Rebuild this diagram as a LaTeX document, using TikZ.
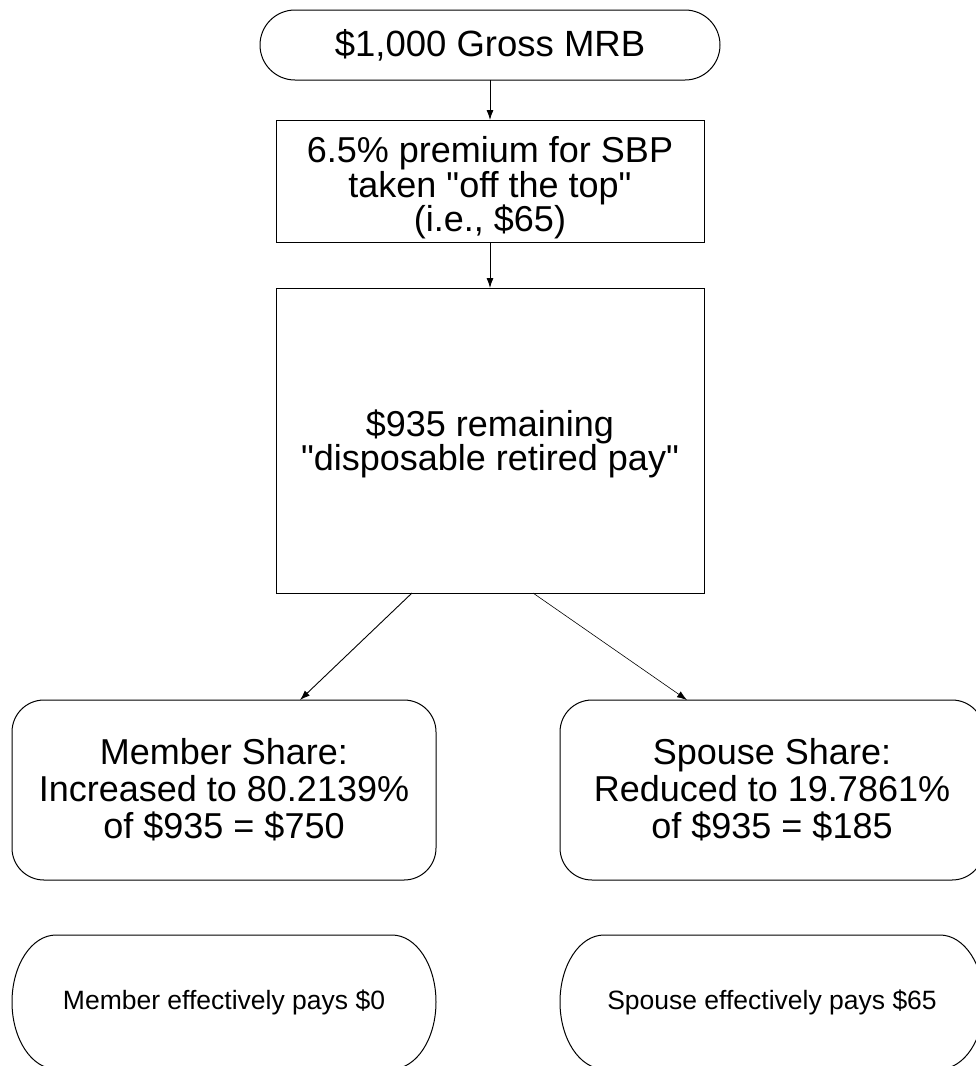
\documentclass[tikz,border=0pt]{standalone}
\usepackage{fontspec}
\setmainfont{Liberation Sans}[Ligatures=TeXOff]
\usetikzlibrary{arrows.meta,calc}
\begin{document}
\begin{tikzpicture}[x=1pt,y=-1pt,
  every node/.style={inner sep=0pt,outer sep=0pt,align=center},
  bigtext/.style={font=\fontsize{36}{37}\selectfont},
  tighttext/.style={font=\fontsize{36}{34.5}\selectfont},
  smalltext/.style={font=\fontsize{26.5}{30}\selectfont},
  boxline/.style={draw=black,line width=1pt},
  terminal/.style={boxline,rectangle,rounded corners=35pt},
  processbox/.style={boxline,rectangle},
  sharebox/.style={boxline,rectangle,rounded corners=32pt,minimum width=424pt,minimum height=180pt},
  noteterm/.style={rectangle,minimum width=424pt,minimum height=134pt},
  arr/.style={draw=black,line width=0.9pt,-{Latex[length=10pt,width=7pt]}},
  thinarr/.style={draw=black,line width=0.6pt,-{Latex[length=10pt,width=7pt]}}
]
\useasboundingbox (0,0) rectangle (976,1066);
\fill[white] (0,0) rectangle (976,1066);
\clip (0,0) rectangle (976,1066);

\node[terminal,font=\fontsize{36.5}{38}\selectfont,minimum width=460pt,minimum height=70pt] (gross) at (490,45) {\$1,000 Gross MRB};
\node[processbox,minimum width=428pt,minimum height=122pt] (prem) at (490,181) {};
\node[tighttext] (premtext) at (490,188)
  {6.5\% premium for SBP\\taken "off the top"\\(i.e., \$65)};
\node[processbox,minimum width=428pt,minimum height=305pt] (disp) at (490,440.5) {};
\node[tighttext] (disptext) at (490,444)
  {\$935 remaining\\"disposable retired pay"};
\node[sharebox,bigtext] (member) at (224,790)
  {Member Share:\\Increased to 80.2139\%\\of \$935 = \$750};
\node[sharebox,bigtext] (spouse) at (772,790)
  {Spouse Share:\\Reduced to 19.7861\%\\of \$935 = \$185};
\node[noteterm,smalltext] (mpays) at (224,1002) {Member effectively pays \$0};
\node[noteterm,smalltext] (spays) at (772,1002) {Spouse effectively pays \$65};

% terminal outlines with elliptical ends
\foreach \n in {mpays,spays}{
  \draw[boxline] ($(\n.north west)+(44,0)$) -- ($(\n.north east)+(-44,0)$)
    arc[start angle=-90,end angle=90,x radius=44pt,y radius=-67pt]
    -- ($(\n.south west)+(44,0)$)
    arc[start angle=90,end angle=270,x radius=44pt,y radius=-67pt];
}

\coordinate (dl) at ($(disp.south)+(-78,0)$);
\coordinate (dr) at ($(disp.south)+(43,0)$);
\coordinate (ml) at ($(member.north)+(76,0)$);
\coordinate (sr) at ($(spouse.north)+(-85,0)$);

\draw[arr] (gross) -- (prem);
\draw[arr] (prem) -- (disp);
\draw[arr] (dl) -- (ml);
\draw[thinarr] (dr) -- (sr);
\end{tikzpicture}
\end{document}
